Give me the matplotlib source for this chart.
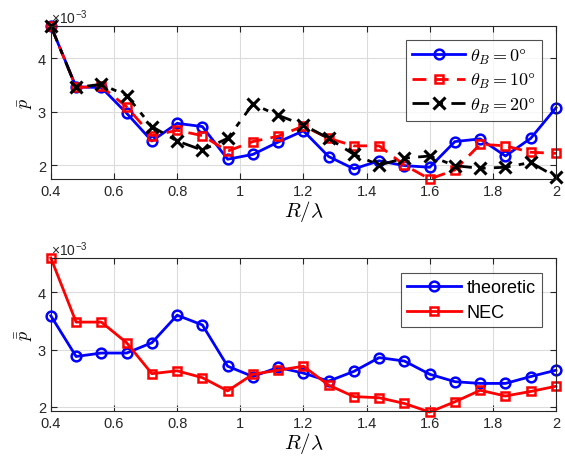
import numpy as np
import matplotlib.pyplot as plt

plt.rcParams['font.family'] = ['Liberation Sans', 'DejaVu Sans']
plt.rcParams['mathtext.fontset'] = 'cm'

# R/lambda samples
r = np.round(np.arange(0.4, 2.0001, 0.08), 2)

# top panel, values in units of 1e-3
p_th0 = [4.6, 3.46, 3.45, 2.97, 2.45, 2.78, 2.72, 2.11, 2.2, 2.43, 2.64,
         2.16, 1.93, 2.08, 1.99, 1.96, 2.44, 2.49, 2.17, 2.5, 3.07]
p_th10 = [4.6, 3.45, 3.47, 3.09, 2.55, 2.65, 2.55, 2.26, 2.44, 2.54, 2.73,
          2.5, 2.36, 2.36, 2.0, 1.74, 1.91, 2.39, 2.36, 2.24, 2.22]
p_th20 = [4.6, 3.45, 3.51, 3.3, 2.72, 2.45, 2.28, 2.5, 3.14, 2.93, 2.75,
          2.5, 2.2, 2.0, 2.13, 2.17, 1.99, 1.94, 1.96, 2.05, 1.78]

# bottom panel
p_theo = [3.59, 2.88, 2.94, 2.94, 3.12, 3.6, 3.43, 2.71, 2.53, 2.69, 2.59,
          2.45, 2.62, 2.86, 2.8, 2.57, 2.44, 2.41, 2.41, 2.53, 2.64]
p_nec = [4.6, 3.48, 3.48, 3.12, 2.58, 2.63, 2.51, 2.28, 2.57, 2.64, 2.71,
         2.38, 2.18, 2.16, 2.06, 1.91, 2.09, 2.29, 2.19, 2.27, 2.36]

fig = plt.figure(figsize=(5.65, 4.64), dpi=100)
ax1 = fig.add_axes([0.090, 0.612, 0.894, 0.330])
ax2 = fig.add_axes([0.090, 0.111, 0.894, 0.331])

def style(ax, ylim, ylab):
    ax.set_xlim(0.4, 2)
    ax.set_ylim(*ylim)
    ax.set_xticks([0.4, 0.6, 0.8, 1, 1.2, 1.4, 1.6, 1.8, 2])
    ax.set_xticklabels(['0.4', '0.6', '0.8', '1', '1.2', '1.4', '1.6', '1.8', '2'])
    ax.set_yticks([2, 3, 4])
    ax.grid(True, color='#dcdcdc', linewidth=0.8)
    ax.set_axisbelow(True)
    ax.tick_params(direction='in', top=True, right=True, length=4,
                   labelsize=10.5, colors='#262626')
    for s in ax.spines.values():
        s.set_color('#262626')
        s.set_linewidth(0.8)
    ax.set_xlabel(r'$R/\lambda$', fontsize=15, labelpad=0)
    ax.set_ylabel(ylab, fontsize=13, labelpad=2)
    ax.text(0.0, 1.0, r'×10$^{\mathregular{-3}}$', transform=ax.transAxes,
            fontsize=10, color='#262626', va='bottom', ha='left')

def add_legend(ax, size, hl, sp):
    leg = ax.legend(loc='upper right', bbox_to_anchor=(0.973, 0.905),
                    fontsize=size, fancybox=False, edgecolor='#262626',
                    handlelength=hl, borderpad=0.35, labelspacing=sp,
                    handletextpad=0.3, borderaxespad=0)
    leg.get_frame().set_linewidth(0.8)

ax1.plot(r, p_th0, '-o', color='blue', lw=2, ms=7, mew=1.8, mfc='none',
         clip_on=False, label=r'$\theta_B = 0\degree$')
ax1.plot(r, p_th10, '--s', color='red', lw=2, ms=6, mew=1.8, mfc='none',
         dashes=(5, 3), clip_on=False, label=r'$\theta_B = 10\degree$')
ax1.plot(r, p_th20, '-.x', color='black', lw=2, ms=8, mew=2.2,
         dashes=(6, 3, 2, 3), clip_on=False, label=r'$\theta_B = 20\degree$')
style(ax1, (1.74, 4.6), r'$\bar{p}$')
add_legend(ax1, 13, 2.9, 0.3)

ax2.plot(r, p_theo, '-o', color='blue', lw=2, ms=7, mew=1.8, mfc='none',
         clip_on=False, label='theoretic')
ax2.plot(r, p_nec, '-s', color='red', lw=2, ms=6, mew=1.8, mfc='none',
         clip_on=False, label='NEC')
style(ax2, (1.92, 4.6), r'$\bar{\bar{p}}$')
add_legend(ax2, 13, 3.0, 0.45)

plt.savefig('out.png', dpi=100)
